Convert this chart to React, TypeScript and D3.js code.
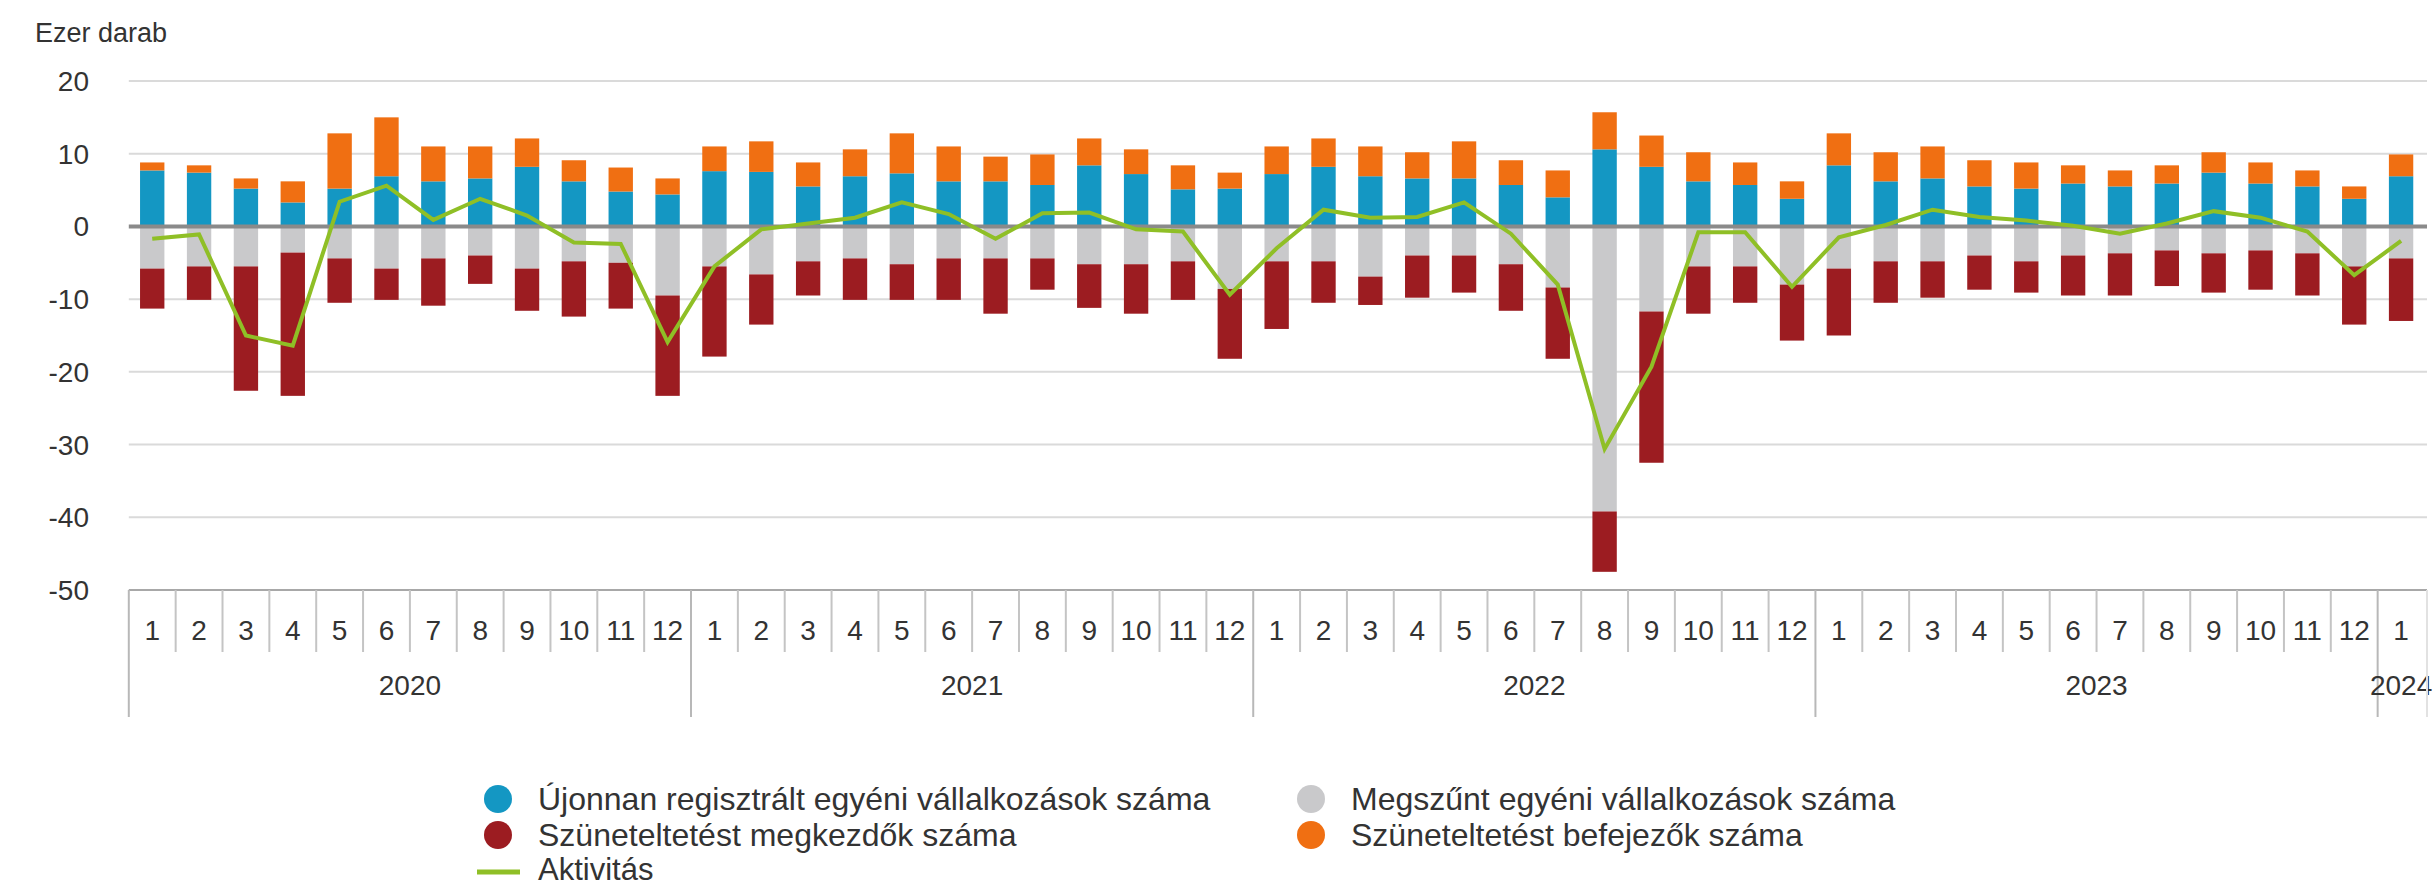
import { FC } from 'react';
import * as d3 from 'd3';

// tick labels
const months = [1, 2, 3, 4, 5, 6, 7, 8, 9, 10, 11, 12, 1, 2, 3, 4, 5, 6, 7, 8, 9, 10, 11, 12, 1, 2, 3, 4, 5, 6, 7, 8, 9, 10, 11, 12, 1, 2, 3, 4, 5, 6, 7, 8, 9, 10, 11, 12, 1];
const years = ['2020', '2021', '2022', '2023', '2024'];
const yTicks = [20, 10, 0, -10, -20, -30, -40, -50];

// ezer darab
const ujonnan = [
  7.7, 7.4, 5.2, 3.3, 5.2, 6.9, 6.2, 6.6, 8.2, 6.2, 4.8, 4.4,
  7.6, 7.5, 5.5, 6.9, 7.3, 6.2, 6.2, 5.7, 8.4, 7.2, 5.1, 5.2,
  7.2, 8.2, 6.9, 6.6, 6.6, 5.7, 4.0, 10.6, 8.2, 6.2, 5.7, 3.8,
  8.4, 6.2, 6.6, 5.5, 5.2, 5.9, 5.5, 5.9, 7.4, 5.9, 5.5, 3.8,
  6.9,
];
const befejezok = [
  1.1, 1.0, 1.4, 2.9, 7.6, 8.1, 4.8, 4.4, 3.9, 2.9, 3.3, 2.2,
  3.4, 4.2, 3.3, 3.7, 5.5, 4.8, 3.4, 4.2, 3.7, 3.4, 3.3, 2.2,
  3.8, 3.9, 4.1, 3.6, 5.1, 3.4, 3.7, 5.1, 4.3, 4.0, 3.1, 2.4,
  4.4, 4.0, 4.4, 3.6, 3.6, 2.5, 2.2, 2.5, 2.8, 2.9, 2.2, 1.7,
  3.0,
];
const megszunt = [
  5.8, 5.5, 5.5, 3.6, 4.4, 5.8, 4.4, 4.0, 5.8, 4.8, 5.0, 9.5,
  5.5, 6.6, 4.8, 4.4, 5.2, 4.4, 4.4, 4.4, 5.2, 5.2, 4.8, 8.6,
  4.8, 4.8, 6.9, 4.0, 4.0, 5.2, 8.4, 39.2, 11.7, 5.5, 5.5, 8.0,
  5.8, 4.8, 4.8, 4.0, 4.8, 4.0, 3.7, 3.3, 3.7, 3.3, 3.7, 5.5,
  4.4,
];
const megkezdok = [
  5.5, 4.6, 17.1, 19.7, 6.1, 4.3, 6.5, 3.9, 5.8, 7.6, 6.3, 13.8,
  12.4, 6.9, 4.7, 5.7, 4.9, 5.7, 7.6, 4.3, 6.0, 6.8, 5.3, 9.6,
  9.3, 5.7, 3.9, 5.8, 5.1, 6.4, 9.8, 8.3, 20.8, 6.5, 5.0, 7.7,
  9.2, 5.7, 5.0, 4.7, 4.3, 5.5, 5.8, 4.9, 5.4, 5.4, 5.8, 8.0,
  8.6,
];
const aktivitas = [
  -1.7, -1.1, -15.0, -16.4, 3.4, 5.6, 0.9, 3.8, 1.5, -2.2, -2.4, -15.9,
  -5.5, -0.4, 0.4, 1.2, 3.3, 1.7, -1.7, 1.8, 1.9, -0.4, -0.7, -9.4,
  -3.0, 2.3, 1.2, 1.3, 3.3, -1.0, -8.0, -30.6, -19.3, -0.8, -0.8, -8.3,
  -1.5, 0.2, 2.3, 1.3, 0.8, 0.1, -1.0, 0.4, 2.1, 1.2, -0.7, -6.7,
  -2.0,
];

const colors: Record<string, string> = {
  ujonnan: '#1497c3',
  befejezok: '#f06f12',
  megszunt: '#c9c9cb',
  megkezdok: '#9c1c21',
};
const green = '#8fbf26';
const font = '"Liberation Sans", Arial, sans-serif';

const App: FC = () => {
  const width = 2433;
  const height = 888;

  const rows = months.map((m, i) => ({
    i,
    ujonnan: ujonnan[i],
    befejezok: befejezok[i],
    megszunt: -megszunt[i],
    megkezdok: -megkezdok[i],
  }));

  const stack = d3
    .stack<any>()
    .keys(['ujonnan', 'befejezok', 'megszunt', 'megkezdok'])
    .offset(d3.stackOffsetDiverging);
  const series = stack(rows);

  const x = d3
    .scaleBand<number>()
    .domain(months.map((_, i) => i))
    .range([128.8, 2424.5]);
  const y = d3.scaleLinear().domain([-50, 20]).range([590, 81]);
  const step = x.step();
  const barW = step * 0.52;
  const cx = (i: number) => (x(i) as number) + step / 2;

  const line = d3
    .line<number>()
    .x((_, i) => cx(i))
    .y((d) => y(d));

  const x0 = x.range()[0];
  const x1 = 2427;

  // year spans: 12 months each, last one 1 month
  const yearSpans = years.map((yr, k) => {
    const start = k * 12;
    const end = Math.min(start + 12, months.length);
    return { yr, start, end };
  });

  return (
    <div style={{ position: 'absolute', left: 0, top: 0 }}>
      <svg width={width} height={height} style={{ display: 'block', background: '#fff' }} fontFamily={font}>
        <text x={35} y={42} fontSize={27} fill='#333'>
          Ezer darab
        </text>

        {/* grid */}
        {yTicks.map((t) => (
          <g key={t}>
            {t !== 0 && t !== -50 && (
              <line x1={x0} x2={x1} y1={y(t)} y2={y(t)} stroke='#dadada' strokeWidth={2} />
            )}
            <text x={89} y={y(t) + 10} textAnchor='end' fontSize={28} fill='#333'>
              {t}
            </text>
          </g>
        ))}

        {/* bars */}
        {series.map((s) => (
          <g key={s.key} fill={colors[s.key]}>
            {s.map((d, i) => (
              <rect
                key={i}
                x={cx(i) - barW / 2}
                width={barW}
                y={y(Math.max(d[0], d[1]))}
                height={Math.abs(y(d[0]) - y(d[1]))}
              />
            ))}
          </g>
        ))}

        {/* zero line */}
        <line x1={x0} x2={x1} y1={y(0)} y2={y(0)} stroke='#8a8a8a' strokeWidth={4} />

        {/* activity line */}
        <path d={line(aktivitas) || ''} fill='none' stroke={green} strokeWidth={4} strokeLinejoin='miter' />

        {/* x axis */}
        <line x1={x0} x2={x1} y1={y(-50)} y2={y(-50)} stroke='#a8a8a8' strokeWidth={2} />
        {months.map((m, i) => (
          <g key={i}>
            {i > 0 && i % 12 !== 0 && (
              <line x1={x(i)} x2={x(i)} y1={590} y2={652} stroke='#c4c4c4' strokeWidth={2} />
            )}
            <text x={cx(i)} y={640} textAnchor='middle' fontSize={28} fill='#333'>
              {m}
            </text>
          </g>
        ))}
        {yearSpans.map((ys) => (
          <g key={ys.yr}>
            <line
              x1={x(ys.start)}
              x2={x(ys.start)}
              y1={590}
              y2={717}
              stroke='#b8b8b8'
              strokeWidth={2}
            />
            <text
              x={((x(ys.start) as number) + (x(ys.end - 1) as number) + step) / 2}
              y={695}
              textAnchor='middle'
              fontSize={28}
              fill='#333'
            >
              {ys.yr}
            </text>
          </g>
        ))}
        <line x1={x1} x2={x1} y1={590} y2={717} stroke='#e2e2e2' strokeWidth={2} />

        {/* legend */}
        <g fontSize={32} fill='#333'>
          <circle cx={498} cy={799} r={14} fill={colors.ujonnan} />
          <text x={538} y={810}>Újonnan regisztrált egyéni vállalkozások száma</text>
          <circle cx={1311} cy={799} r={14} fill={colors.megszunt} />
          <text x={1351} y={810}>Megszűnt egyéni vállalkozások száma</text>
          <circle cx={498} cy={835} r={14} fill={colors.megkezdok} />
          <text x={538} y={846}>Szüneteltetést megkezdők száma</text>
          <circle cx={1311} cy={835} r={14} fill={colors.befejezok} />
          <text x={1351} y={846}>Szüneteltetést befejezők száma</text>
          <line x1={477} x2={520} y1={872} y2={872} stroke={green} strokeWidth={5} />
          <text x={538} y={880} fontSize={31}>Aktivitás</text>
        </g>
      </svg>
    </div>
  );
};

export default App;
